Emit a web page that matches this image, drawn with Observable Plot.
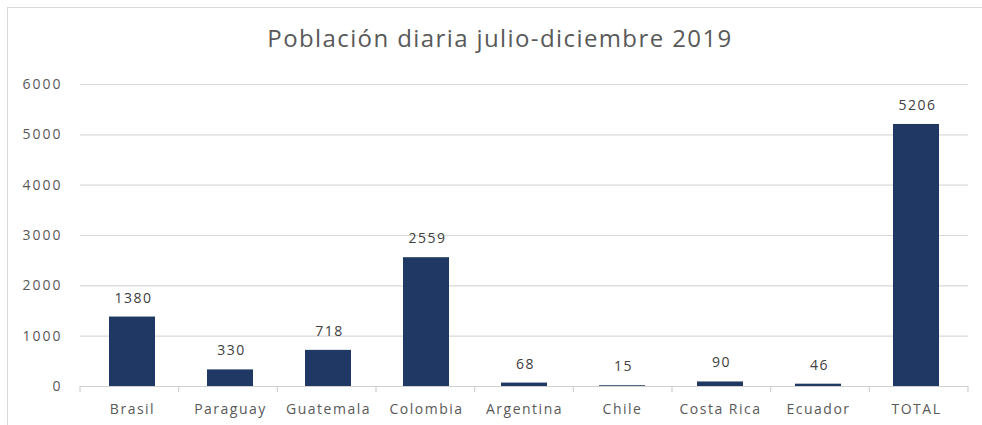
<!DOCTYPE html>
<html><head><meta charset="utf-8">
<script src="https://cdn.jsdelivr.net/npm/d3@7"></script>
<script src="https://cdn.jsdelivr.net/npm/@observablehq/plot@0.6"></script>
<style>
html,body{margin:0;padding:0;background:#fff;}
#wrap{position:relative;width:982px;height:425px;overflow:hidden;font-family:"Open Sans",sans-serif;}
#frame{position:absolute;left:7px;top:7px;width:990px;height:440px;border:1.5px solid #d9d9d9;pointer-events:none;}
#title{position:absolute;left:0;width:1000px;top:21px;text-align:center;font-size:24px;letter-spacing:1.4px;color:#595959;white-space:nowrap;}
#chart{position:absolute;left:0;top:60px;}
</style></head>
<body><div id="wrap"><div id="frame"></div><div id="title">Población diaria julio-diciembre 2019</div><div id="chart"></div></div>
<script>
const categories = ["Brasil","Paraguay","Guatemala","Colombia","Argentina","Chile","Costa Rica","Ecuador","TOTAL"];
const values = [1380,330,718,2559,68,15,90,46,5206];
const yTicks = [0,1000,2000,3000,4000,5000,6000];
const data = categories.map((c,i)=>({cat:c, v:values[i]}));

const boundaryTicks = (index, scales, vals, dim) => {
  const g = d3.create("svg:g");
  const n = categories.length;
  const x0 = dim.marginLeft, x1 = dim.width - dim.marginRight;
  const y0 = scales.y(0);
  for (let i = 0; i <= n; i++) {
    const x = x0 + (x1 - x0) * i / n;
    g.append("line").attr("x1", x).attr("x2", x).attr("y1", y0).attr("y2", y0 + 6)
      .attr("stroke", "#d0d0d0").attr("stroke-width", 1.2);
  }
  return g.node();
};

const chart = Plot.plot({
  width: 982, height: 365,
  marginLeft: 80, marginRight: 14, marginTop: 24, marginBottom: 39,
  style: {fontFamily: "'Open Sans', sans-serif", color: "#595959", background: "transparent"},
  x: {domain: categories, paddingInner: 0.53, paddingOuter: 0.265, label: null},
  y: {domain: [0, 6000], label: null},
  marks: [
    Plot.ruleY(yTicks.slice(1), {stroke: "#d9d9d9", strokeWidth: 1.2}),
    Plot.ruleY([0], {stroke: "#d0d0d0", strokeWidth: 1.2}),
    boundaryTicks,
    Plot.barY(data, {x: "cat", y: "v", fill: "#203864"}),
    Plot.text(data, {x: "cat", y: "v", text: d => String(d.v), dy: -19, dx: 1, fill: "#404040", fontSize: 14}),
    Plot.axisY({ticks: yTicks, tickSize: 0, tickPadding: 18, fontSize: 14, tickFormat: d => String(d), fill: "#595959"}),
    Plot.axisX({tickSize: 0, tickPadding: 18, fontSize: 14, fill: "#595959"})
  ]
});
chart.querySelectorAll("g[aria-label='y-axis tick label'] text").forEach(t => t.style.letterSpacing = "2px");
chart.querySelectorAll("g[aria-label='x-axis tick label'] text").forEach(t => t.style.letterSpacing = "1.5px");
chart.querySelectorAll("g[aria-label='text'] text").forEach(t => t.style.letterSpacing = "1.5px");
document.getElementById("chart").appendChild(chart);
</script></body></html>
